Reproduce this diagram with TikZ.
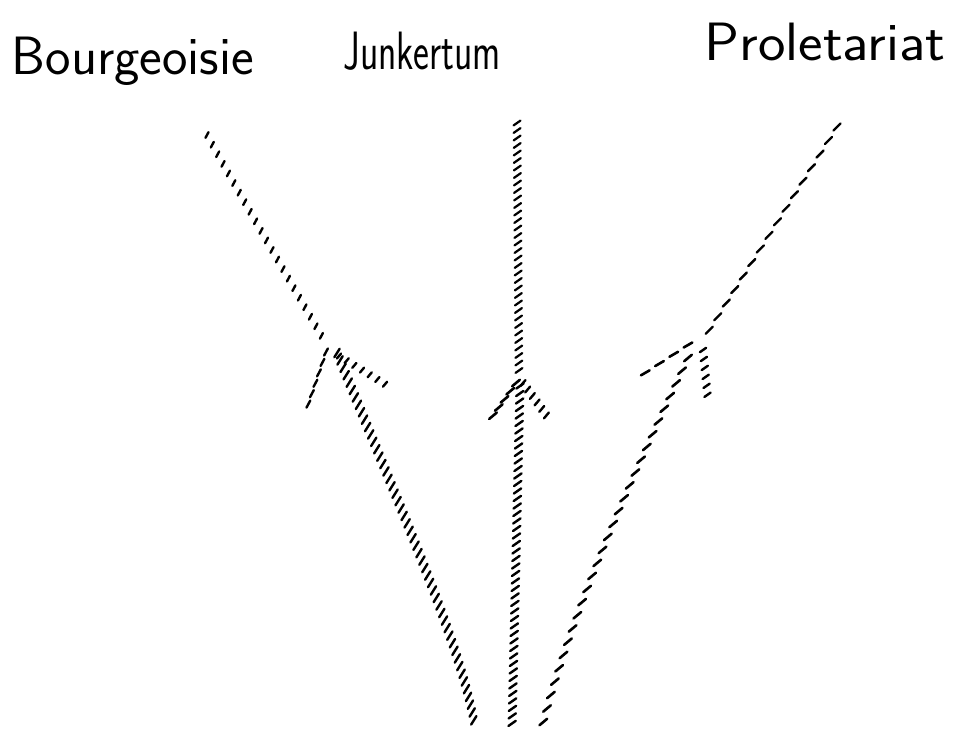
\documentclass[tikz,border=0pt]{standalone}
\usetikzlibrary{decorations.markings}
\tikzset{
  hatch/.style n args={4}{decorate, decoration={markings,
      mark=between positions 0 and 1 step #1 with {\pgftransformresetnontranslations
        \draw[line width=#4, line cap=round] (#3+180:#2) -- (#3:#2);}}},
  label/.style={font=\sffamily\fontsize{54}{60}\selectfont, anchor=base, inner sep=0pt},
}
\begin{document}
\begin{tikzpicture}[x=1pt,y=-1pt]
\useasboundingbox (0,0) rectangle (959,729);
% labels
\node[label, xscale=1.0, transform shape] (tb) at (133,74) {Bourgeoisie};
\node[label, xscale=0.7, transform shape] (tj) at (422,69) {Junkertum};
\node[label, xscale=1.08, transform shape] (tp) at (825,60) {Proletariat};
% coordinates
\coordinate (o1) at (475,727);
\coordinate (o2) at (512,727);
\coordinate (o3) at (542,727);
\coordinate (bt) at (207,135);
\coordinate (be) at (325,342);
\coordinate (bs) at (337,353);
\coordinate (bl1) at (326,352);
\coordinate (bl2) at (305,414);
\coordinate (br1) at (339,356);
\coordinate (br2) at (388,386);
\coordinate (jt) at (517,123);
\coordinate (je) at (519,375);
\coordinate (js) at (520,386);
\coordinate (jl1) at (516,383);
\coordinate (jl2) at (490,420);
\coordinate (jr1) at (523,383);
\coordinate (jr2) at (549,419);
\coordinate (pt) at (837,127);
\coordinate (pe) at (705,337);
\coordinate (ps) at (688,358);
\coordinate (pl1) at (688,345);
\coordinate (pl2) at (645,373);
\coordinate (pr1) at (703,350);
\coordinate (pr2) at (708,400);
% Bourgeoisie
\path[hatch={11pt}{3.2pt}{62}{2.4pt}] (bt) .. controls (240,195) and (295,290) .. (be);
\path[hatch={8pt}{5pt}{58}{2.4pt}] (bs) .. controls (410,530) and (462,650) .. (o1);
\path[hatch={11pt}{4pt}{62}{2.4pt}] (bl1) -- (bl2);
\path[hatch={9pt}{3.2pt}{50}{2.4pt}] (br1) -- (br2);
% Junkertum
\path[hatch={7.5pt}{4.2pt}{35}{2.2pt}] (jt) -- (je);
\path[hatch={7.5pt}{4.5pt}{35}{2.4pt}] (js) -- (o2);
\path[hatch={10pt}{5pt}{40}{2.6pt}] (jl1) -- (jl2);
\path[hatch={8pt}{3.8pt}{50}{2.4pt}] (jr1) -- (jr2);
% Proletariat
\path[hatch={16pt}{5pt}{45}{2.4pt}] (pt) -- (pe);
\path[hatch={14pt}{5pt}{40}{2.6pt}] (ps) .. controls (640,460) and (575,600) .. (o3);
\path[hatch={17pt}{5pt}{30}{2.6pt}] (pl1) -- (pl2);
\path[hatch={9pt}{3.8pt}{35}{2.4pt}] (pr1) -- (pr2);
\end{tikzpicture}
\end{document}
